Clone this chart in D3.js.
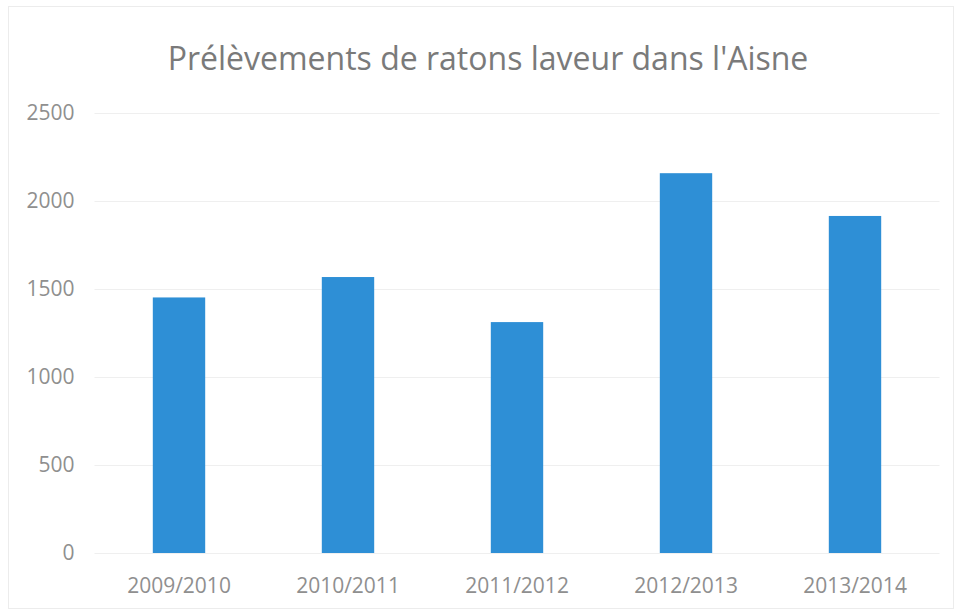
<!DOCTYPE html>
<html><head><meta charset="utf-8">
<script src="https://cdn.jsdelivr.net/npm/d3@7"></script>
<style>body{margin:0;background:#fff}svg{display:block}</style>
</head><body>
<svg id="c" width="957" height="612"></svg>
<script>
const categories = ["2009/2010","2010/2011","2011/2012","2012/2013","2013/2014"];
const values = [1452, 1568, 1312, 2158, 1915];
const yTicks = [0, 500, 1000, 1500, 2000, 2500];
const title = "Prélèvements de ratons laveur dans l'Aisne";

(function(){
const svg = d3.select("#c");
const W = 957, H = 612;
const pl = 94.5, pr = 939.5, pt = 113, pb = 553;

svg.append("rect").attr("x",8.5).attr("y",6.5).attr("width",W-12).attr("height",H-10)
  .attr("fill","#fff").attr("stroke","#ececec");

const x = d3.scaleBand().domain(categories).range([pl,pr]).paddingInner(0.69).paddingOuter(0.345);
const y = d3.scaleLinear().domain([0,2500]).range([pb,pt]);

svg.append("g").selectAll("line").data(yTicks).join("line")
  .attr("x1",pl).attr("x2",pr)
  .attr("y1",d=>y(d)+0.5).attr("y2",d=>y(d)+0.5)
  .attr("stroke","#efefef").attr("stroke-width",1);

const yAxis = svg.append("g").attr("transform",`translate(${pl},0)`)
  .call(d3.axisLeft(y).tickValues(yTicks).tickFormat(d3.format("d")).tickSize(0).tickPadding(20));
yAxis.select(".domain").remove();
yAxis.selectAll("text").attr("fill","#8f8f8f").attr("font-size",21)
  .attr("font-family","'Open Sans', sans-serif");

svg.append("g").selectAll("rect").data(values).join("rect")
  .attr("x",(d,i)=>x(categories[i]))
  .attr("width",x.bandwidth())
  .attr("y",d=>y(d))
  .attr("height",d=>y(0)-y(d))
  .attr("fill","#2e8fd6");

const xAxis = svg.append("g").attr("transform",`translate(0,${pb})`)
  .call(d3.axisBottom(x).tickSize(0).tickPadding(25));
xAxis.select(".domain").remove();
xAxis.selectAll("text").attr("fill","#8f8f8f").attr("font-size",21)
  .attr("font-family","'Open Sans', sans-serif");

svg.append("text").attr("x",488).attr("y",70).attr("text-anchor","middle")
  .attr("fill","#7a7a7a").attr("font-size",32)
  .attr("font-family","'Open Sans', sans-serif").text(title);
})();
</script>
</body></html>
